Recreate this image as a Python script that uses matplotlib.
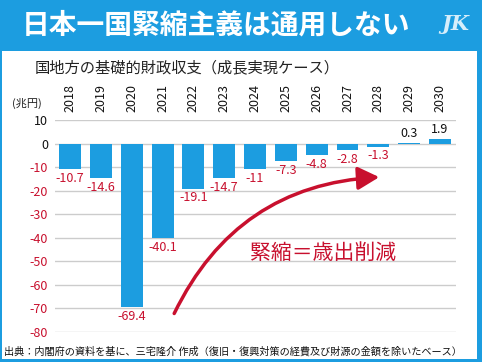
import matplotlib
matplotlib.use("Agg")
import matplotlib.pyplot as plt
from matplotlib.patches import Rectangle, FancyArrowPatch

plt.rcParams['font.family'] = ['Noto Sans CJK JP', 'DejaVu Sans']

years = ['2018', '2019', '2020', '2021', '2022', '2023', '2024',
         '2025', '2026', '2027', '2028', '2029', '2030']
values = [-10.7, -14.6, -69.4, -40.1, -19.1, -14.7, -11,
          -7.3, -4.8, -2.8, -1.3, 0.3, 1.9]
yticks = [10, 0, -10, -20, -30, -40, -50, -60, -70, -80]

title = '日本一国緊縮主義は通用しない'
subtitle = '国地方の基礎的財政収支（成長実現ケース）'
unit = '(兆円)'
note = '緊縮＝歳出削減'
source = '出典：内閣府の資料を基に、三宅隆介 作成（復旧・復興対策の経費及び財源の金額を除いたベース）'

BLUE = '#1c9de0'
RED = '#c8102e'

W, H = 482, 362
fig = plt.figure(figsize=(W / 100, H / 100), dpi=100)

def fx(px):
    return px / W

def fy(py):
    return 1 - py / H

# frame and banner
fig.patches.append(Rectangle((0, 0), 1, 1, transform=fig.transFigure,
                             facecolor=BLUE, edgecolor='none', zorder=-10))
fig.patches.append(Rectangle((fx(2), fy(359)), fx(477) - fx(2), fy(51) - fy(359),
                             transform=fig.transFigure, facecolor='white',
                             edgecolor='none', zorder=-9))

fig.text(fx(22), fy(25), title, color='white', fontsize=20, fontweight='bold',
         va='center', ha='left')
fig.text(fx(455), fy(24), 'JK', color='#d6eefb', fontsize=15, fontweight='bold',
         fontstyle='italic', family='DejaVu Serif', va='center', ha='center')
fig.text(fx(35), fy(68), subtitle, color='#222222', fontsize=11,
         va='center', ha='left')
fig.text(fx(12), fy(103), unit, color='#222222', fontsize=8,
         va='center', ha='left')
fig.text(fx(4), fy(352), source, color='#111111', fontsize=7.3,
         va='center', ha='left')

# axes
left, right = fx(55), fx(456)
bottom, top = fy(332), fy(120)
ax = fig.add_axes([left, bottom, right - left, top - bottom])
ax.set_facecolor('none')
x = list(range(len(years)))
ax.bar(x, values, width=0.71, color=BLUE, zorder=3)
ax.set_xlim(-0.49, 12.52)
ax.set_ylim(-80, 10)
ax.set_yticks(yticks)
ax.set_yticklabels([str(t) for t in yticks], fontsize=9)
for lab, t in zip(ax.get_yticklabels(), yticks):
    lab.set_color(RED if t < 0 else '#111111')
ax.yaxis.grid(True, color='#cccccc', lw=1, zorder=0)
ax.xaxis.tick_top()
ax.set_xticks(x)
ax.set_xticklabels(years, rotation=90, fontsize=9, color='#111111')
ax.tick_params(axis='both', length=0)
ax.tick_params(axis='x', pad=6)
ax.tick_params(axis='y', pad=5)
for s in ax.spines.values():
    s.set_visible(False)

for xi, v in zip(x, values):
    if v < 0:
        ax.annotate(f'{v:g}', (xi, v), xytext=(0, -2), textcoords='offset points',
                    ha='center', va='top', color=RED, fontsize=9)
    else:
        ax.annotate(f'{v:g}', (xi, v), xytext=(0, 2), textcoords='offset points',
                    ha='center', va='bottom', color='#111111', fontsize=9)

# arrow and note
arrow = FancyArrowPatch((fx(173), fy(316)), (fx(382), fy(177)),
                        transform=fig.transFigure,
                        connectionstyle='arc3,rad=-0.3',
                        arrowstyle='-|>,head_length=13,head_width=7',
                        color=RED, lw=2.5, zorder=5)
fig.patches.append(arrow)
fig.text(fx(250), fy(253), note, color=RED, fontsize=15, va='center', ha='left')

fig.savefig('out.png', dpi=100)
